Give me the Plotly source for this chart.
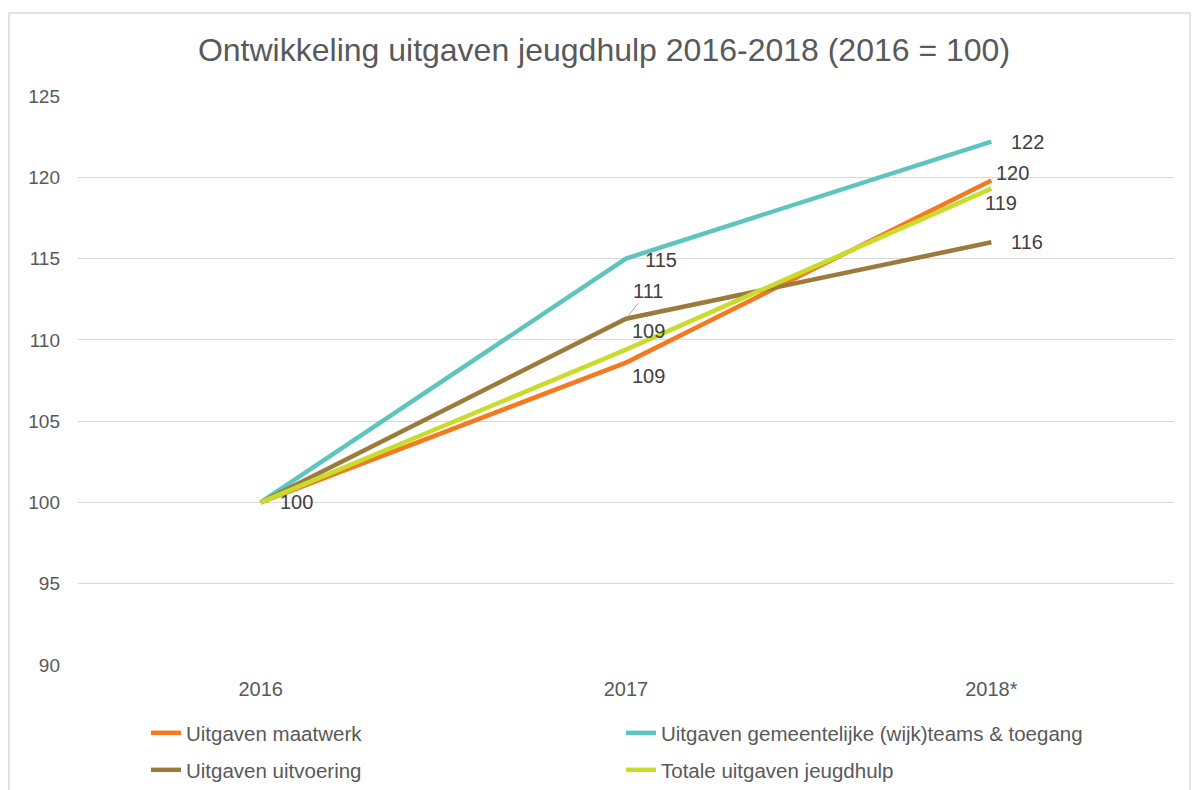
import plotly.graph_objects as go

years = ["2016", "2017", "2018*"]
maatwerk = [100, 108.6, 119.8]
wijkteams = [100, 115.0, 122.2]
uitvoering = [100, 111.3, 116.0]
totaal = [100, 109.4, 119.3]

series_names = [
    "Uitgaven maatwerk",
    "Uitgaven gemeentelijke (wijk)teams & toegang",
    "Uitgaven uitvoering",
    "Totale uitgaven jeugdhulp",
]
series_values = [maatwerk, wijkteams, uitvoering, totaal]
colors = ["#F47A20", "#5DC5BE", "#9C7A3C", "#C9DC2B"]
legends = ["legend", "legend", "legend2", "legend2"]

# label offsets (px) per series per point: (xshift, yshift)
label_offsets = [
    [(36, 0), (22, -13), (21, 8)],
    [None, (35, -1), (36, 0)],
    [None, None, (36, 0)],
    [None, (22, 19), (10, -14)],
]

fig = go.Figure()
for name, vals, col, lg in zip(series_names, series_values, colors, legends):
    fig.add_trace(go.Scatter(
        x=years, y=vals, mode="lines", name=name,
        line=dict(color=col, width=4.5),
        legend=lg,
    ))

annotations = []
lab_font = dict(family="Liberation Sans, Arial, sans-serif", size=20, color="#404040")
for vals, offs in zip(series_values, label_offsets):
    for i, (v, off) in enumerate(zip(vals, offs)):
        if off is None:
            continue
        annotations.append(dict(
            x=i, y=v, xref="x", yref="y", text=str(round(v)),
            showarrow=False, xshift=off[0], yshift=off[1], font=lab_font,
        ))
# label with leader line (uitvoering 2017)
annotations.append(dict(
    x=1, y=uitvoering[1], xref="x", yref="y", text=str(round(uitvoering[1])),
    showarrow=True, arrowhead=0, arrowwidth=1, arrowcolor="#A6A6A6",
    ax=22, ay=-28, font=lab_font, standoff=2,
))

L, R, T, B = 78, 24, 96, 125
W, H = 1198, 790
pw, ph = W - L - R, H - T - B

def px_to_paper_x(px):
    return (px - L) / pw

def px_to_paper_y(py):
    return (H - B - py) / ph

leg_font = dict(size=20.5, color="#595959")
fig.update_layout(
    width=W, height=H,
    margin=dict(l=L, r=R, t=T, b=B, autoexpand=False),
    paper_bgcolor="white", plot_bgcolor="white",
    font=dict(family="Liberation Sans, Arial, sans-serif", color="#595959"),
    title=dict(
        text="Ontwikkeling uitgaven jeugdhulp 2016-2018 (2016 = 100)",
        x=604 / W, xref="container", xanchor="center",
        y=1 - 50 / H, yref="container", yanchor="middle",
        font=dict(size=32, color="#595959"),
    ),
    xaxis=dict(
        type="category", range=[-0.5, 2.5], showgrid=False, zeroline=False,
        showline=False, ticks="", tickfont=dict(size=20, color="#595959"),
        automargin=False, ticklabelstandoff=10,
    ),
    yaxis=dict(
        range=[90, 125], dtick=5, tick0=90, showgrid=True, gridcolor="#D9D9D9",
        gridwidth=1, zeroline=False, showline=False, ticks="",
        tickfont=dict(size=19, color="#595959"), ticklabelstandoff=17,
        automargin=False,
    ),
    legend=dict(
        orientation="h", x=px_to_paper_x(146), y=px_to_paper_y(733),
        xanchor="left", yanchor="middle", entrywidth=430, entrywidthmode="pixels",
        font=leg_font, bgcolor="rgba(0,0,0,0)",
    ),
    legend2=dict(
        orientation="h", x=px_to_paper_x(146), y=px_to_paper_y(770),
        xanchor="left", yanchor="middle", entrywidth=430, entrywidthmode="pixels",
        font=leg_font, bgcolor="rgba(0,0,0,0)",
    ),
    annotations=annotations,
    shapes=[dict(
        type="rect", xref="paper", yref="paper",
        x0=px_to_paper_x(9), x1=px_to_paper_x(1190),
        y0=px_to_paper_y(800), y1=px_to_paper_y(13),
        line=dict(color="#D9D9D9", width=1.5), fillcolor="rgba(0,0,0,0)",
        layer="below",
    )],
    showlegend=True,
)

fig.write_html(
    "out.html",
    config={"displayModeBar": False},
    post_script="document.body.style.margin='0';document.body.style.padding='0';",
)
